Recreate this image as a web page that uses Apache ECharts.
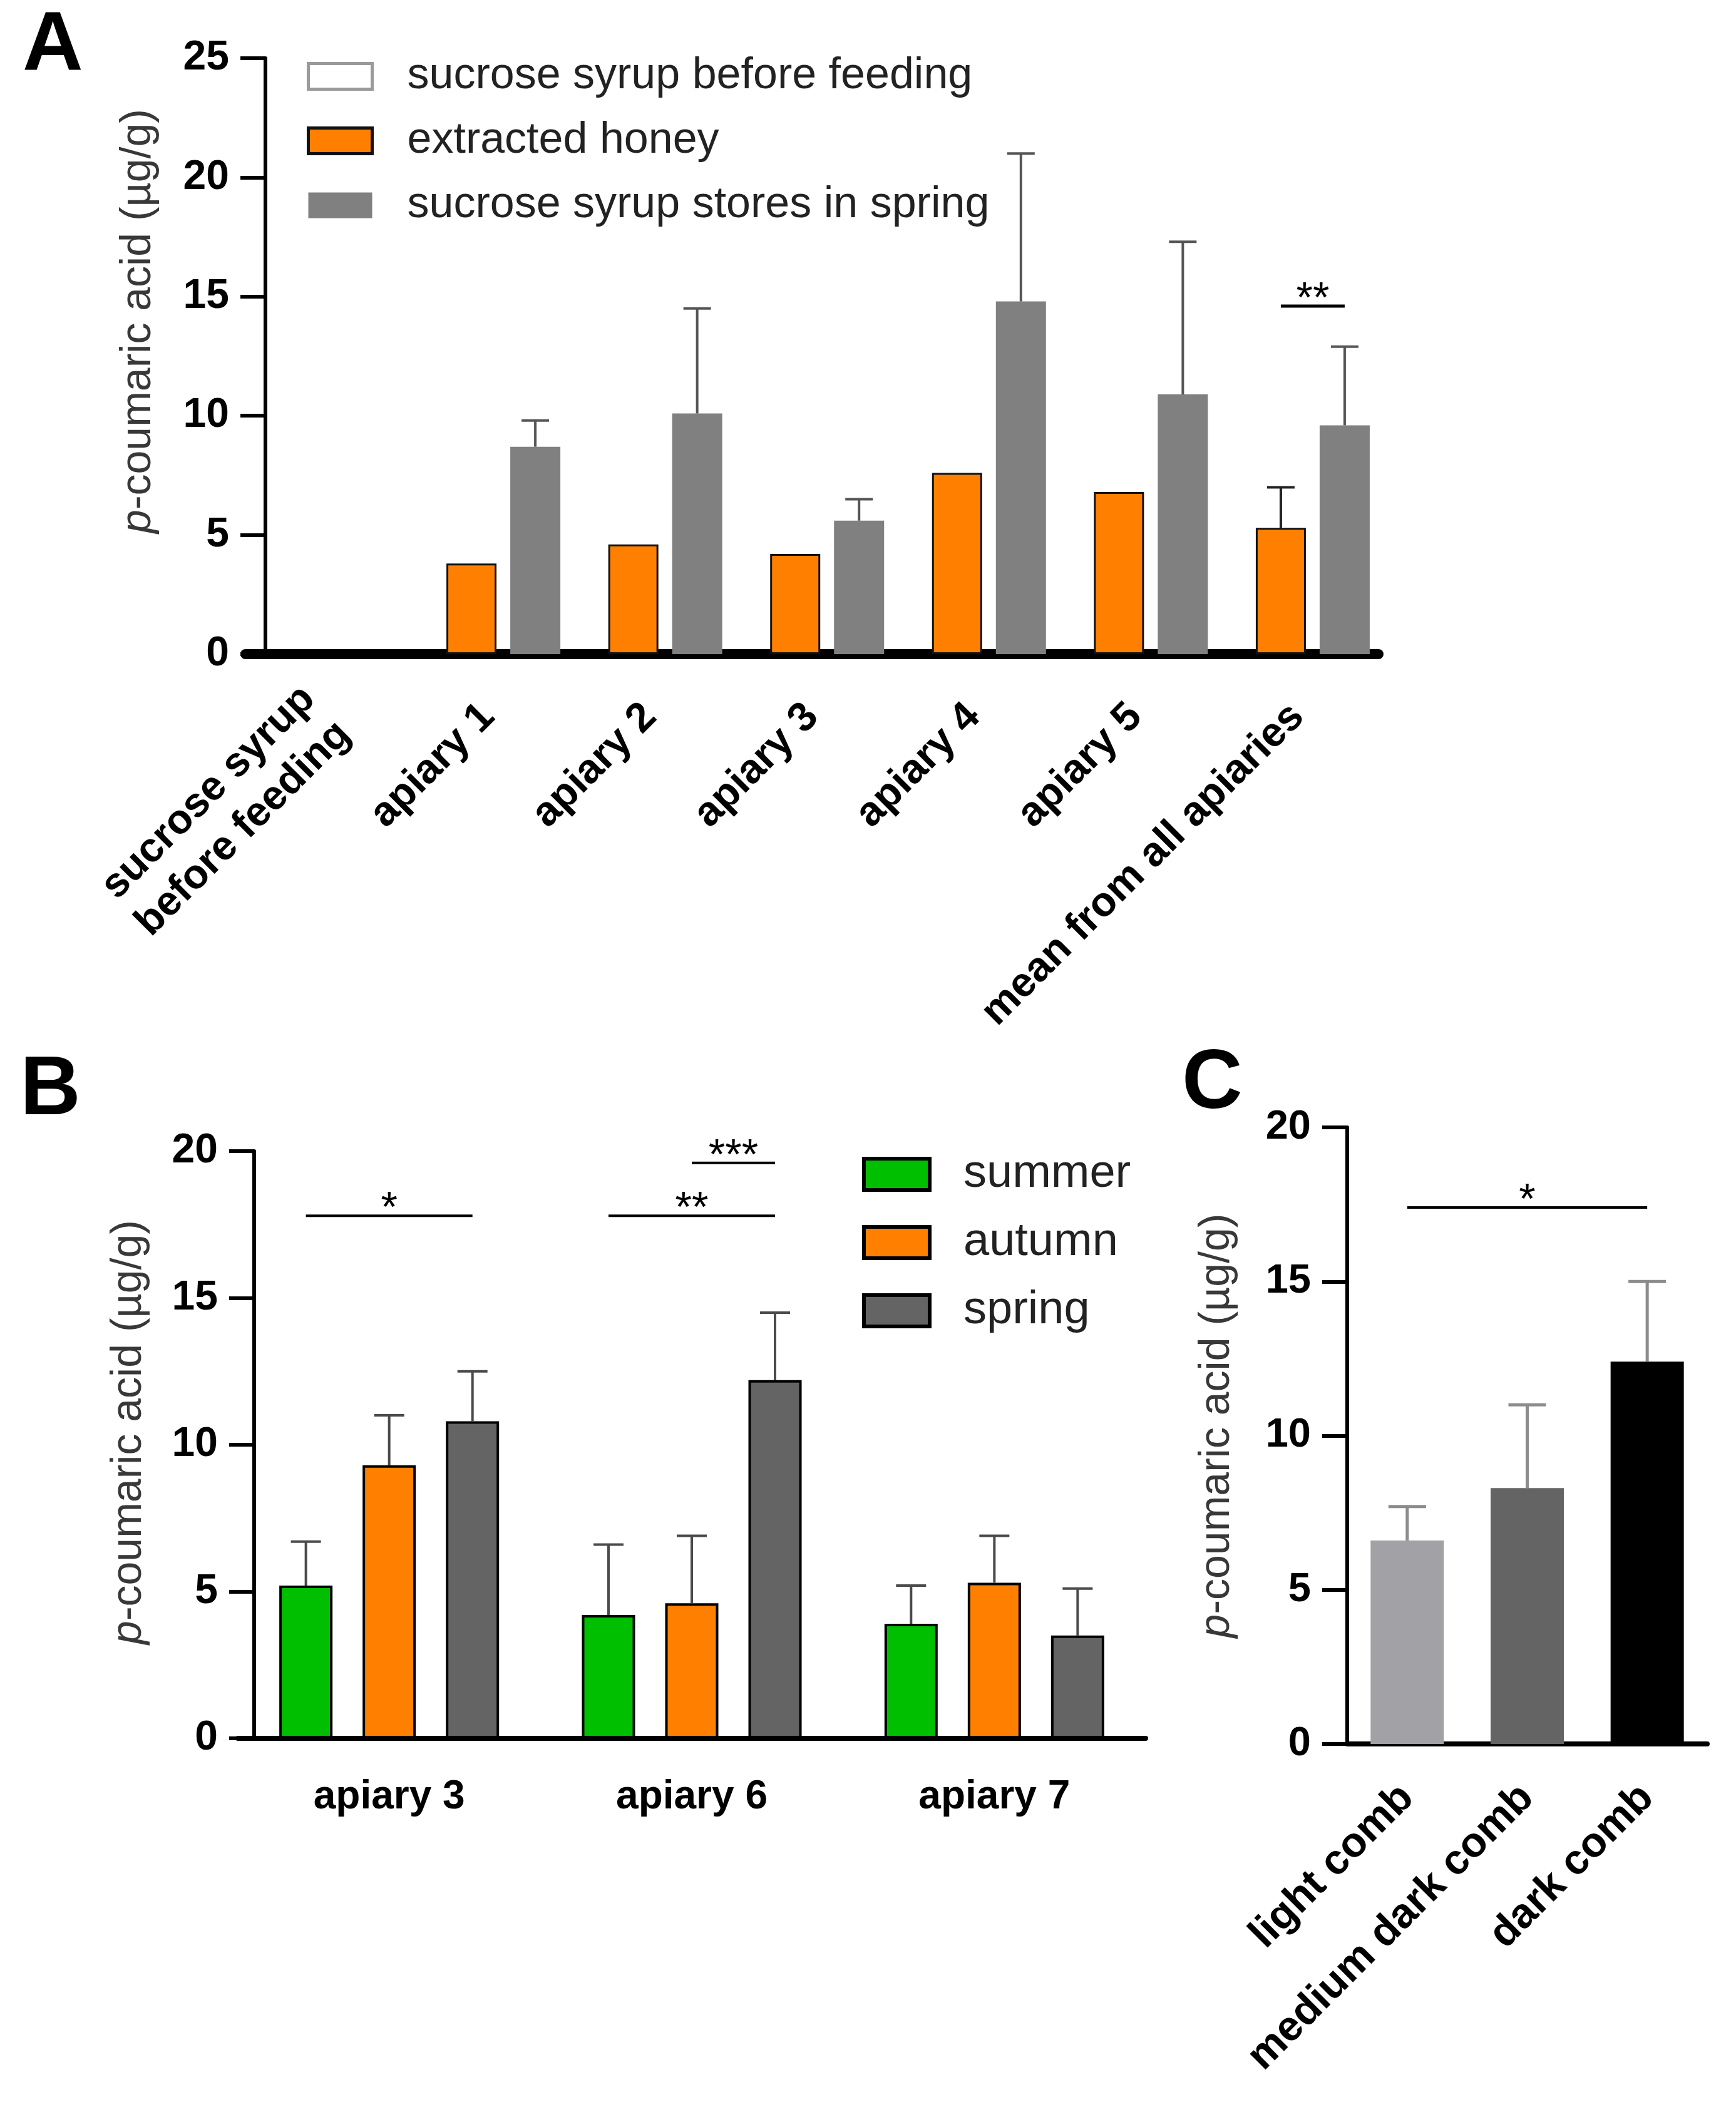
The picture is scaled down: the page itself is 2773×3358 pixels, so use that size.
<!DOCTYPE html>
<html lang="en">
<head>
    <meta charset="UTF-8">
    <title>p-coumaric acid</title>
    <script src="https://cdn.jsdelivr.net/npm/echarts/dist/echarts.min.js"></script>
</head>
<body style="margin:0;background:#fff;">
    <div id="main" style="width:2773px;height:3358px;"></div>
    <script type="text/javascript">
        // panel A
        const catsA = ['sucrose syrup\nbefore feeding', 'apiary 1', 'apiary 2', 'apiary 3', 'apiary 4', 'apiary 5', 'mean from all apiaries'];
        const namesA = ['sucrose syrup before feeding', 'extracted honey', 'sucrose syrup stores in spring'];
        const syrupA = [0, null, null, null, null, null, null];
        const honeyA = [null, 3.8, 4.6, 4.2, 7.6, 6.8, 5.3];
        const honeySdA = [null, null, null, null, null, null, 1.7];
        const storesA = [null, 8.7, 10.1, 5.6, 14.8, 10.9, 9.6];
        const storesSdA = [null, 1.1, 4.4, 0.9, 6.2, 6.4, 3.3];
        // [fromCat, fromSlot, toCat, toSlot, y]
        const sigA = [[6, 1, 6, 2, 14.6]];
        const sigTextA = ['**'];

        // panel B
        const catsB = ['apiary 3', 'apiary 6', 'apiary 7'];
        const namesB = ['summer', 'autumn', 'spring'];
        const summerB = [5.2, 4.2, 3.9];
        const summerSdB = [1.5, 2.4, 1.3];
        const autumnB = [9.3, 4.6, 5.3];
        const autumnSdB = [1.7, 2.3, 1.6];
        const springB = [10.8, 12.2, 3.5];
        const springSdB = [1.7, 2.3, 1.6];
        const sigB = [[0, 0, 0, 2, 17.8], [1, 0, 1, 2, 17.8], [1, 1, 1, 2, 19.6]];
        const sigTextB = ['*', '**', '***'];

        // panel C
        const catsC = ['light comb', 'medium dark comb', 'dark comb'];
        const combC = [6.6, 8.3, 12.4];
        const combSdC = [1.1, 2.7, 2.6];
        const sigC = [[0, 0, 2, 0, 17.4]];
        const sigTextC = ['*'];

        const FONT = "'Liberation Sans', Arial, sans-serif";
        const ORANGE = '#ff8000';
        const styleA = [
          { color: '#fff', borderColor: '#9a9a9a', borderWidth: 3 },
          { color: ORANGE, borderColor: '#111', borderWidth: 3 },
          { color: '#808080', borderWidth: 0 }
        ];
        const styleB = [
          { color: '#00bf00', borderColor: '#000', borderWidth: 4 },
          { color: ORANGE, borderColor: '#000', borderWidth: 4 },
          { color: '#646464', borderColor: '#000', borderWidth: 4 }
        ];
        const colorsC = ['#a2a2a6', '#646464', '#000000'];

        // bar widths (px) and gap per panel, same rule echarts uses to place bars
        const widthsA = [38, 80, 80], gapA = 0.275;
        const widthsB = [85, 85, 85], gapB = 0.565;
        const widthsC = [117], gapC = 0;

        function slotOffsets(widths, gap) {
          let sum = 0;
          widths.forEach(w => { sum += w * (1 + gap); });
          sum -= widths[widths.length - 1] * gap;
          let off = -sum / 2;
          const res = [];
          widths.forEach(w => { res.push(off + w / 2); off += w * (1 + gap); });
          return res;
        }
        const offA = slotOffsets(widthsA, gapA);
        const offB = slotOffsets(widthsB, gapB);
        const offC = slotOffsets(widthsC, gapC);

        function errRows(means, sds, slot) {
          const rows = [];
          means.forEach((m, i) => {
            if (m != null && sds[i] != null) rows.push([i, m, sds[i], slot]);
          });
          return rows;
        }

        function errorSeries(idx, rows, offsets, color, width, cap) {
          return {
            type: 'custom', xAxisIndex: idx, yAxisIndex: idx, z: 5, silent: true,
            data: rows,
            renderItem: function (params, api) {
              const b = api.coord([api.value(0), api.value(1)]);
              const t = api.coord([api.value(0), api.value(1) + api.value(2)]);
              const x = b[0] + offsets[api.value(3)];
              return {
                type: 'group',
                children: [
                  { type: 'line', shape: { x1: x, y1: b[1], x2: x, y2: t[1] }, style: { stroke: color, lineWidth: width } },
                  { type: 'line', shape: { x1: x - cap / 2, y1: t[1], x2: x + cap / 2, y2: t[1] }, style: { stroke: color, lineWidth: width } }
                ]
              };
            }
          };
        }

        function sigSeries(idx, rows, texts, offsets, lw, fs) {
          return {
            type: 'custom', xAxisIndex: idx, yAxisIndex: idx, z: 6, silent: true,
            data: rows,
            renderItem: function (params, api) {
              const a = api.coord([api.value(0), api.value(4)]);
              const b = api.coord([api.value(2), api.value(4)]);
              const x1 = a[0] + offsets[api.value(1)];
              const x2 = b[0] + offsets[api.value(3)];
              return {
                type: 'group',
                children: [
                  { type: 'line', shape: { x1: x1, y1: a[1], x2: x2, y2: a[1] }, style: { stroke: '#000', lineWidth: lw } },
                  {
                    type: 'text', x: (x1 + x2) / 2, y: a[1] - 10,
                    style: { text: texts[params.dataIndex], fontSize: fs, fontFamily: FONT, fill: '#000', align: 'center', verticalAlign: 'middle' }
                  }
                ]
              };
            }
          };
        }

        function yName(gap, pad) {
          return {
            name: '{i|p}-coumaric acid (µg/g)',
            nameLocation: 'middle',
            nameGap: gap,
            nameMoveOverlap: false,
            nameTextStyle: {
              fontSize: 68, fontFamily: FONT, color: '#383838', padding: [0, 0, 0, pad],
              rich: { i: { fontSize: 68, fontFamily: FONT, fontStyle: 'italic', color: '#383838' } }
            }
          };
        }

        function valueAxis(idx, max, offset, labelSize, nameGap, namePad) {
          return Object.assign({
            gridIndex: idx, type: 'value', min: 0, max: max, interval: 5, offset: offset,
            axisLine: { show: true, lineStyle: { color: '#000', width: 6 } },
            axisTick: { show: true, length: 40, lineStyle: { color: '#000', width: 6 } },
            axisLabel: { margin: 58, fontSize: labelSize, fontWeight: 'bold', fontFamily: FONT, color: '#000' },
            splitLine: { show: false }
          }, yName(nameGap, namePad));
        }

        // legend icons get a slightly heavier outline so it shows like the reference
        function legendData(names, styles) {
          return names.map((n, i) => ({
            name: n,
            itemStyle: Object.assign({}, styles[i], styles[i].borderWidth ? { borderWidth: styles[i].borderWidth + 2 } : {})
          }));
        }

        const option = {
          animation: false,
          backgroundColor: '#fff',
          graphic: [
            { type: 'text', left: 36, top: 8, style: { text: 'A', fontSize: 134, fontWeight: 'bold', fontFamily: FONT, fill: '#000' } },
            { type: 'text', left: 32, top: 1676, style: { text: 'B', fontSize: 134, fontWeight: 'bold', fontFamily: FONT, fill: '#000' } },
            { type: 'text', left: 1888, top: 1666, style: { text: 'C', fontSize: 134, fontWeight: 'bold', fontFamily: FONT, fill: '#000' } }
          ],
          legend: [
            {
              data: legendData(namesA, styleA), orient: 'vertical', left: 485, top: 82, icon: 'rect',
              itemWidth: 102, itemHeight: 41, itemGap: 33, selectedMode: false,
              textStyle: { fontSize: 70, lineHeight: 70, fontFamily: FONT, color: '#222', padding: [0, 0, 0, 51] }
            },
            {
              data: legendData(namesB, styleB), orient: 'vertical', left: 1372, top: 1834, icon: 'rect',
              itemWidth: 105, itemHeight: 50, itemGap: 35, selectedMode: false,
              textStyle: { fontSize: 74, lineHeight: 74, fontFamily: FONT, color: '#222', padding: [0, 0, 0, 49] }
            }
          ],
          grid: [
            { left: 392, top: 93, width: 1810, height: 952, outerBoundsMode: 'none' },
            { left: 380, top: 1839, width: 1450, height: 938, outerBoundsMode: 'none' },
            { left: 2152, top: 1801, width: 575, height: 985, outerBoundsMode: 'none' }
          ],
          xAxis: [
            {
              gridIndex: 0, type: 'category', data: catsA,
              axisLine: { lineStyle: { color: '#000', width: 16 } },
              axisTick: { alignWithLabel: true, length: 43, lineStyle: { color: '#000', width: 12 } },
              axisLabel: { interval: 0, rotate: 45, margin: 90, fontSize: 66, lineHeight: 80, fontWeight: 'bold', fontFamily: FONT, color: '#000' },
              splitLine: { show: false }
            },
            {
              gridIndex: 1, type: 'category', data: catsB,
              axisLine: { lineStyle: { color: '#000', width: 8 } },
              axisTick: { alignWithLabel: true, length: 35, lineStyle: { color: '#000', width: 8 } },
              axisLabel: { interval: 0, margin: 62, fontSize: 64, fontWeight: 'bold', fontFamily: FONT, color: '#000' },
              splitLine: { show: false }
            },
            {
              gridIndex: 2, type: 'category', data: catsC,
              axisLine: { lineStyle: { color: '#000', width: 8 } },
              axisTick: { alignWithLabel: true, length: 36, lineStyle: { color: '#000', width: 9 } },
              axisLabel: { interval: 0, rotate: 45, margin: 76, fontSize: 67, fontWeight: 'bold', fontFamily: FONT, color: '#000' },
              splitLine: { show: false }
            }
          ],
          yAxis: [
            valueAxis(0, 25, -32, 66, 169, 112),
            valueAxis(1, 20, -26, 66, 166, 40),
            valueAxis(2, 20, 0, 65, 174, 32)
          ],
          series: [
            {
              name: namesA[0], type: 'bar', xAxisIndex: 0, yAxisIndex: 0, data: syrupA, barWidth: widthsA[0], barGap: (gapA * 100) + '%',
              itemStyle: { color: '#fff', borderWidth: 0 }
            },
            {
              name: namesA[1], type: 'bar', xAxisIndex: 0, yAxisIndex: 0, data: honeyA, barWidth: widthsA[1], barGap: (gapA * 100) + '%',
              itemStyle: styleA[1]
            },
            {
              name: namesA[2], type: 'bar', xAxisIndex: 0, yAxisIndex: 0, data: storesA, barWidth: widthsA[2], barGap: (gapA * 100) + '%',
              itemStyle: styleA[2]
            },
            errorSeries(0, errRows(honeyA, honeySdA, 1), offA, '#222', 4, 44),
            errorSeries(0, errRows(storesA, storesSdA, 2), offA, '#555', 4, 44),
            sigSeries(0, sigA, sigTextA, offA, 5, 68),

            {
              name: namesB[0], type: 'bar', xAxisIndex: 1, yAxisIndex: 1, data: summerB, barWidth: widthsB[0], barGap: (gapB * 100) + '%',
              itemStyle: styleB[0]
            },
            {
              name: namesB[1], type: 'bar', xAxisIndex: 1, yAxisIndex: 1, data: autumnB, barWidth: widthsB[1], barGap: (gapB * 100) + '%',
              itemStyle: styleB[1]
            },
            {
              name: namesB[2], type: 'bar', xAxisIndex: 1, yAxisIndex: 1, data: springB, barWidth: widthsB[2], barGap: (gapB * 100) + '%',
              itemStyle: styleB[2]
            },
            errorSeries(1, errRows(summerB, summerSdB, 0), offB, '#4a4a4a', 4, 48),
            errorSeries(1, errRows(autumnB, autumnSdB, 1), offB, '#4a4a4a', 4, 48),
            errorSeries(1, errRows(springB, springSdB, 2), offB, '#4a4a4a', 4, 48),
            sigSeries(1, sigB, sigTextB, offB, 4, 68),

            {
              name: 'comb', type: 'bar', xAxisIndex: 2, yAxisIndex: 2, barWidth: widthsC[0],
              data: combC.map((v, i) => ({ value: v, itemStyle: { color: colorsC[i] } }))
            },
            errorSeries(2, errRows(combC, combSdC, 0), offC, '#8c8c8c', 5, 60),
            sigSeries(2, sigC, sigTextC, offC, 4, 68)
          ]
        };

        const myChart = echarts.init(document.getElementById('main'));
        myChart.setOption(option);
    </script>
</body>
</html>
